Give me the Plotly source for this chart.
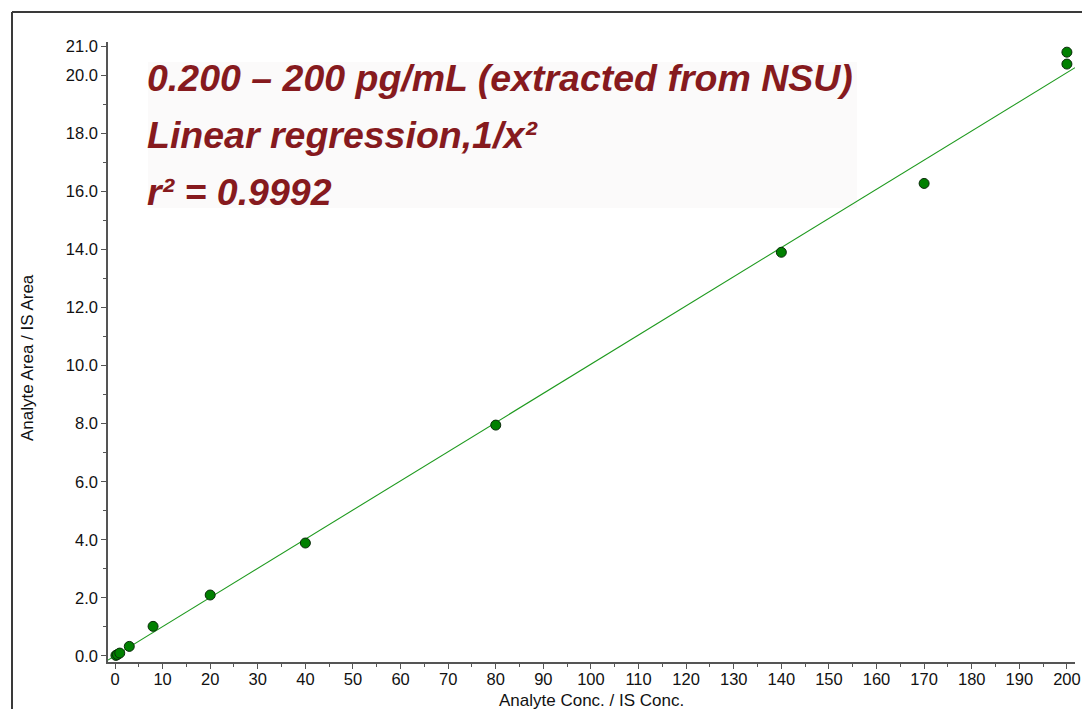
import plotly.graph_objects as go

# Calibration standards: nominal concentration ratio vs. measured area ratio
conc = [0.2, 0.5, 1.0, 3.0, 8.0, 20.0, 40.0, 80.0, 140.0, 170.0, 200.0, 200.0]
area_ratio = [0.02, 0.05, 0.10, 0.33, 1.02, 2.10, 3.89, 7.95, 13.90, 16.27, 20.79, 20.38]

# Weighted (1/x^2) linear fit parameters
slope = 0.1004
intercept = 0.007

x_range = [-1.47, 201.7]
y_range = [-0.207, 21.14]

y_tickvals = [0, 2, 4, 6, 8, 10, 12, 14, 16, 18, 20, 21]
y_ticktext = ["0.0", "2.0", "4.0", "6.0", "8.0", "10.0", "12.0", "14.0",
              "16.0", "18.0", "20.0", "21.0"]
x_tickvals = list(range(0, 201, 10))

info_lines = [
    "0.200 \u2013 200 pg/mL (extracted from NSU)",
    "Linear regression,1/x\u00b2",
    "r\u00b2 = 0.9992",
]

fit_x = x_range
fit_y = [intercept + slope * v for v in fit_x]

fig = go.Figure()
fig.add_trace(go.Scatter(
    x=fit_x, y=fit_y, mode="lines",
    line=dict(color="#1f9a1f", width=1.1),
    hoverinfo="skip", showlegend=False,
))
fig.add_trace(go.Scatter(
    x=conc, y=area_ratio, mode="markers",
    marker=dict(size=10, color="#008000", line=dict(color="#0a2a0a", width=1)),
    showlegend=False,
))

font_main = "Liberation Sans, Arial, sans-serif"
axis_common = dict(
    showgrid=False, zeroline=False, showline=True,
    linecolor="#555555", linewidth=1.5,
    ticks="outside", ticklen=5, tickwidth=1, tickcolor="#555555",
    tickfont=dict(family=font_main, size=16.5, color="#111111"),
)

fig.update_xaxes(
    range=x_range, tickmode="array", tickvals=x_tickvals,
    minor=dict(ticks="outside", ticklen=3, tickcolor="#555555", dtick=5, tick0=0),
    ticklabelstandoff=-4,
    **axis_common,
)
fig.update_yaxes(
    range=y_range, tickmode="array", tickvals=y_tickvals, ticktext=y_ticktext,
    minor=dict(ticks="outside", ticklen=3, tickcolor="#555555",
               tickvals=[1, 3, 5, 7, 9, 11, 13, 15, 17, 19]),
    **axis_common,
)

L, R, T, B = 108, 7, 42, 47
W, H = 1082, 709
pw, ph = W - L - R, H - T - B


def px_x(p):
    return (p - L) / pw


def px_y(p):
    return (H - B - p) / ph


shapes = [
    # outer frame (left and top edges)
    dict(type="line", xref="paper", yref="paper",
         x0=px_x(12), x1=px_x(12), y0=px_y(12), y1=px_y(712),
         line=dict(color="#3a3a3a", width=2)),
    dict(type="line", xref="paper", yref="paper",
         x0=px_x(12), x1=px_x(1085), y0=px_y(12), y1=px_y(12),
         line=dict(color="#3a3a3a", width=2)),
    # light panel behind the method description
    dict(type="rect", xref="paper", yref="paper",
         x0=px_x(148), x1=px_x(857), y0=px_y(208), y1=px_y(62),
         fillcolor="#fbfafa", line=dict(width=0), layer="below"),
]

annotations = [
    dict(text="Analyte Area / IS Area", xref="paper", yref="paper",
         x=px_x(27), y=px_y(358), textangle=-90, showarrow=False,
         xanchor="center", yanchor="middle",
         font=dict(family=font_main, size=17, color="#111111")),
    dict(text="Analyte Conc. / IS Conc.", xref="paper", yref="paper",
         x=px_x(591), y=px_y(700), showarrow=False,
         xanchor="center", yanchor="middle",
         font=dict(family=font_main, size=17, color="#111111")),
]
for i, line in enumerate(info_lines):
    annotations.append(dict(
        text="<b><i>" + line + "</i></b>", xref="paper", yref="paper",
        x=px_x(146), y=px_y(78 + 57 * i), xanchor="left", yanchor="middle",
        showarrow=False, borderpad=0,
        font=dict(family=font_main, size=37.5, color="#861a1e"),
    ))

fig.update_layout(
    width=W, height=H,
    margin=dict(l=L, r=R, t=T, b=B, autoexpand=False),
    paper_bgcolor="white", plot_bgcolor="white",
    shapes=shapes, annotations=annotations,
)

fig.write_html("out.html")
